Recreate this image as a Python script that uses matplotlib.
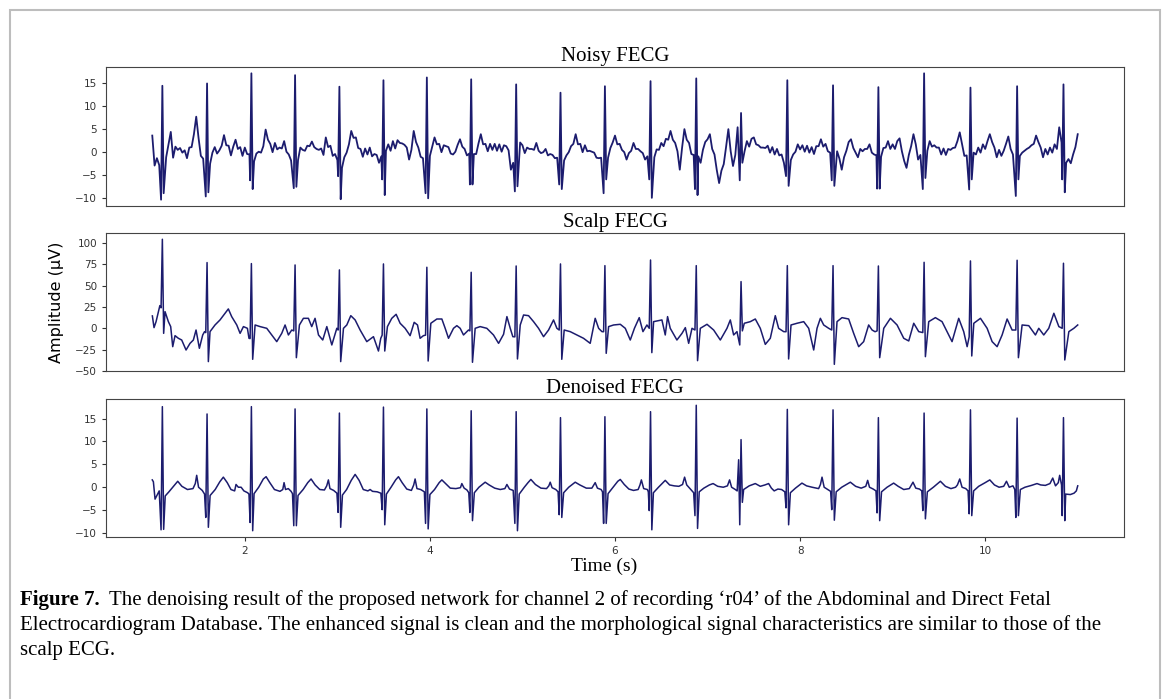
import numpy as np
import matplotlib.pyplot as plt
from matplotlib.patches import Rectangle

# R-peak times (s), shared by the three traces
beat_times = [1.109, 1.592, 2.071, 2.543, 3.022, 3.498, 3.967, 4.446, 4.932, 5.411, 5.891,
              6.384, 6.878, 7.362, 7.862, 8.356, 8.846, 9.340, 9.841, 10.345, 10.846]

# Noisy FECG: QRS values per beat + baseline sampled every 0.025 s from 1 to 11 s
noisy_q = [-10.4, -9.7, -6.2, -7.9, -5.3, -6.0, -9.0, -7.1, -8.6, -7.1, -9.0,
           -6.0, -8.1, -6.2, -5.3, -6.2, -8.0, -8.1, -8.2, -9.6, -6.0]
noisy_r = [14.3, 14.8, 17.0, 16.6, 14.1, 15.5, 16.1, 15.7, 14.6, 12.8, 14.2,
           15.3, 15.9, 8.4, 15.5, 14.4, 14.0, 17.0, 13.9, 14.2, 14.6]
noisy_s = [-9.0, -8.8, -8.1, -7.6, -10.3, -9.4, -10.1, -7.1, -7.5, -8.1, -6.0,
           -10.0, -9.4, -2.4, -7.4, -7.4, -8.0, -5.7, -6.0, -6.0, -8.8]
noisy_base = [
    3.5, -3.0, -1.4, -2.9, -2.0, -1.0, -1.2, 1.5, 4.3, -1.3, 1.1, 0.4, 0.8, -0.2, 0.3, -1.4, 0.9, 1.0, 3.8, 7.6,
    3.0, -0.9, -1.5, -2.0, -2.0, -2.6, -0.2, 1.0, -0.4, 0.3, 1.3, 3.6, 1.4, 1.3, -0.8, 1.1, 2.6, 0.6, 1.0, -0.9,
    0.9, -0.5, -0.6, -1.0, -2.1, -0.4, 0.0, -0.2, 1.2, 4.8, 2.6, 1.7, -0.1, 1.9, 0.5, 0.9, 0.7, 2.3, 0.0, -0.6,
    -1.9, -0.8, -1.2, -1.8, 0.9, 0.4, 0.2, 1.3, 1.2, 2.2, 1.0, 0.6, 0.4, 0.7, -0.7, 3.1, 1.0, 1.3, -0.9, -0.5,
    -1.8, -1.5, -3.5, -1.2, -0.2, 1.6, 4.5, 3.0, 3.1, 0.8, 0.6, -1.1, 0.7, -0.6, 0.9, -1.0, -0.5, -0.7, -2.4, -1.0,
    -1.0, 0.2, 1.6, 0.2, 2.3, 0.7, 2.5, 1.9, 1.8, 1.5, 0.9, -1.7, 0.4, 4.5, 2.1, 0.9, -1.1, -1.4, -2.0, -1.0,
    -0.9, 1.1, 3.1, 1.6, 1.7, -0.1, 1.4, 1.2, 1.0, -0.4, -0.6, 0.0, 1.5, 2.7, 1.1, 0.6, -0.8, -0.4, -0.8, -0.5,
    -0.5, 1.8, 3.8, 1.6, 1.7, 0.1, 1.7, 0.4, 1.7, 0.2, 1.6, 0.0, 1.4, 1.2, 0.3, -3.9, -2.4, -2.4, -2.4, 2.0,
    1.4, -0.3, 0.9, 0.6, 0.6, 0.4, 1.9, 0.2, -0.3, -0.1, 0.6, -0.8, -0.5, -0.7, -1.4, -1.3, -1.0, -1.0, -1.9, -0.8,
    -0.1, 1.2, 1.7, 3.8, 1.6, 1.7, -0.1, 1.4, 0.1, 0.2, 0.0, -0.2, -1.3, -1.4, -1.3, -1.0, -1.0, -1.3, 0.8, 2.0,
    3.5, 1.6, 1.7, 0.4, -0.1, -1.7, -0.3, 0.2, 1.9, 0.6, 0.6, 0.1, -0.3, -1.7, -1.0, -1.0, -1.0, -1.2, 0.5, 0.4,
    1.9, 1.2, 2.8, 2.6, 4.5, 2.6, 1.9, 0.1, -3.9, 0.9, 4.9, 2.6, 1.9, -0.5, -0.7, -1.0, -1.0, -2.4, 0.4, 2.1,
    2.7, 3.8, 0.6, -0.6, -4.0, -6.8, -4.1, -2.7, 1.0, 4.9, 0.1, -3.1, -0.7, 5.3, 0.0, 0.0, 0.1, 2.3, 1.1, 2.8,
    3.1, 1.6, 1.4, 0.9, 0.9, 0.8, 1.3, -0.2, 1.0, -0.6, 0.6, -0.8, -0.6, -2.4, -2.0, -2.0, -1.8, -0.6, 0.0, 1.6,
    0.5, 1.4, 0.0, 1.3, -0.2, 1.0, -0.5, 1.2, 1.2, 2.7, 1.1, 1.7, 0.1, -0.2, -0.5, -0.5, 0.1, -1.5, -3.9, -1.2,
    0.2, 2.1, 2.7, 0.8, -0.2, -1.2, 0.6, 0.1, 0.6, 0.6, 1.6, -0.2, -0.6, -0.8, -0.5, -1.1, 0.8, 0.9, 2.3, 0.6,
    1.6, 0.6, 2.3, 2.9, 0.1, -2.0, -3.5, -0.7, 1.2, 3.8, 1.6, -1.7, -0.7, -1.0, -1.0, 0.2, 2.3, 1.1, 1.4, 0.9,
    0.9, -0.6, 0.7, -0.7, 0.6, 0.4, 0.8, 0.9, 2.3, 4.2, 1.6, -0.9, -0.8, -0.5, -0.5, -0.2, -0.6, 0.9, -0.2, 1.6,
    0.6, 2.3, 3.8, 2.1, 0.9, -1.2, 0.4, -0.9, 0.2, 1.7, 3.3, 0.6, -0.6, -0.9, -0.9, -0.9, -0.2, 0.2, 0.6, 0.9,
    1.4, 1.7, 3.5, 2.1, 0.9, -1.2, 0.6, -0.6, 0.9, -0.2, 1.6, 0.6, 5.3, 2.0, 2.0, -2.4, -1.6, -2.5, -0.6, 1.0,
    3.8]

# Scalp FECG
scalp_q = [24, -5, -12, -3, -2, -8, -8, -3, -10, -2, -4, 0, -2, -19.5, -4, -2, -3, -5, -10, -2, 0]
scalp_r = [104.3, 77, 75.8, 74.2, 68.4, 75.4, 71.5, 65.6, 73, 75.4, 73.4,
           80, 73.4, 54.7, 73.4, 73.4, 73, 77.3, 78.9, 79.7, 76.2]
scalp_s = [-5.9, -39, -36.3, -34.4, -39, -26.6, -38.3, -39.8, -35.9, -36.3, -29.3,
           -28.5, -37.9, -3, -35.9, -42.2, -34.4, -33.2, -32.4, -34.4, -37.1]
scalp_t = [1.001, 1.019, 1.041, 1.066, 1.082,
           1.138, 1.174, 1.199, 1.221, 1.246, 1.282, 1.318, 1.365, 1.408, 1.444, 1.473, 1.509, 1.545, 1.565,
           1.624, 1.678, 1.732, 1.786, 1.822, 1.858, 1.913, 1.949, 1.985, 2.028, 2.045,
           2.111, 2.165, 2.237, 2.291, 2.345, 2.399, 2.435, 2.471, 2.507,
           2.590, 2.633, 2.687, 2.723, 2.759, 2.796, 2.842, 2.886, 2.940, 2.994,
           3.066, 3.102, 3.145, 3.192, 3.246, 3.318, 3.390, 3.444, 3.469,
           3.541, 3.588, 3.635, 3.678, 3.732, 3.786, 3.830, 3.866, 3.894, 3.930,
           4.010, 4.075, 4.129, 4.165, 4.201, 4.255, 4.291, 4.327, 4.363, 4.417,
           4.489, 4.543, 4.615, 4.687, 4.742, 4.796, 4.832, 4.868, 4.896,
           4.976, 5.012, 5.066, 5.120, 5.174, 5.228, 5.282, 5.336, 5.372,
           5.451, 5.516, 5.588, 5.660, 5.732, 5.786, 5.823, 5.859,
           5.931, 5.985, 6.057, 6.111, 6.165, 6.210, 6.262, 6.302, 6.345,
           6.417, 6.507, 6.543, 6.568, 6.597, 6.669, 6.724, 6.760, 6.796, 6.832,
           6.922, 6.994, 7.066, 7.138, 7.210, 7.246, 7.282, 7.318,
           7.397, 7.462, 7.516, 7.570, 7.624, 7.678, 7.732, 7.768, 7.823,
           7.902, 7.967, 8.039, 8.093, 8.147, 8.183, 8.219, 8.255, 8.309,
           8.399, 8.453, 8.525, 8.579, 8.633, 8.687, 8.741, 8.778, 8.810,
           8.904, 8.976, 9.048, 9.120, 9.174, 9.228, 9.282,
           9.390, 9.462, 9.534, 9.588, 9.642, 9.714, 9.768, 9.805,
           9.877, 9.949, 10.021, 10.075, 10.129, 10.183, 10.237, 10.291,
           10.399, 10.471, 10.543, 10.579, 10.633, 10.687, 10.742, 10.796,
           10.904, 10.958, 11.000]
scalp_v = [14.5, 0.8, 7.8, 19.5, 26.6,
           19.5, 7.8, 2.0, -21.5, -8.6, -11.7, -13.7, -25.4, -17.6, -13.7, -2.0, -23.4, -7.8, -3.9,
           -3.9, 3.9, 9.8, 17.6, 22.7, 13.7, 3.9, -5.9, 2.0, 0.0, -11.7,
           3.9, 2.0, 0.0, -7.8, -15.6, -5.9, 3.9, -7.8, -2.0,
           3.9, 11.7, 11.7, 2.0, 11.7, -7.8, -13.7, 2.0, -19.5, 0.0,
           0.0, 3.9, 14.8, 9.8, -2.0, -15.6, -9.8, -26.6, -11.7,
           2.0, 11.7, 16.4, 5.9, 0.0, -8.6, 7.0, 3.9, -11.7, -8.6,
           5.9, 10.9, 10.9, 0.0, -11.7, 0.0, 3.1, 0.0, -7.8, -2.0,
           0.0, 2.0, 0.0, -7.8, -17.6, -7.0, 13.7, 0.0, -9.8,
           3.9, 15.6, 14.8, 7.8, 0.0, -9.8, -2.0, 9.8, 0.0,
           -2.0, -3.9, -7.8, -11.7, -17.6, 11.7, 0.0, -3.9,
           2.0, 3.9, 4.7, 0.0, -13.7, 0.0, 12.5, -3.9, 3.9,
           7.8, 9.8, -7.8, 13.7, 0.0, -13.7, -5.9, 0.8, -17.6, 0.0,
           0.0, 4.7, -2.0, -13.7, 0.0, 9.8, -7.8, -3.9,
           5.9, 7.8, 10.9, 0.0, -18.8, -11.7, 14.8, 0.0, -3.9,
           3.9, 5.9, 7.8, 0.0, -25.4, 0.0, 11.7, 3.9, 0.0,
           7.8, 12.5, 10.9, -5.9, -21.5, -15.6, 3.9, -2.0, -4.0,
           0.0, 11.7, 3.9, -11.7, -14.8, 5.9, -3.9,
           7.8, 12.5, 7.8, -3.9, -15.6, 11.7, -3.9, -21.5,
           5.9, 11.7, 0.0, -15.6, -21.5, -7.8, 10.9, -2.0,
           3.9, 3.1, -7.8, 0.0, -7.8, 0.0, 17.6, 2.0,
           -3.9, 0.0, 3.9]

# Denoised FECG
den_q = [-9.3, -6.6, -7.7, -8.4, -5.5, -4.9, -7.9, -5.5, -7.9, -6.0, -7.9,
         -5.1, -6.2, -8.2, -4.5, -4.9, -5.6, -5.1, -5.8, -6.6, -6.2]
den_r = [17.6, 16.0, 17.6, 17.1, 16.2, 17.5, 17.1, 16.7, 16.5, 15.2, 15.4,
         16.5, 17.9, 10.4, 17.0, 16.9, 15.2, 16.2, 16.9, 15.1, 15.2]
den_s = [-9.2, -8.75, -9.5, -8.4, -8.75, -8.2, -9.1, -7.3, -9.5, -6.6, -7.9,
         -9.3, -9.0, -3.3, -8.2, -7.2, -7.3, -6.9, -6.2, -6.2, -7.3]
den_t = [1.000, 1.012, 1.030, 1.050, 1.075,
         1.140, 1.180, 1.230, 1.275, 1.320, 1.380, 1.440, 1.465, 1.480, 1.500, 1.540, 1.565,
         1.625, 1.680, 1.730, 1.768, 1.810, 1.850, 1.890, 1.905, 1.930, 1.960, 1.990, 2.030, 2.045,
         2.100, 2.150, 2.200, 2.230, 2.270, 2.320, 2.380, 2.410, 2.424, 2.440, 2.470, 2.500, 2.515,
         2.575, 2.630, 2.680, 2.716, 2.760, 2.810, 2.860, 2.885, 2.903, 2.920, 2.960, 2.995,
         3.055, 3.100, 3.150, 3.192, 3.235, 3.280, 3.330, 3.354, 3.380, 3.430, 3.470,
         3.530, 3.580, 3.630, 3.660, 3.700, 3.750, 3.800, 3.825, 3.840, 3.860, 3.900, 3.940,
         4.000, 4.050, 4.100, 4.129, 4.170, 4.220, 4.280, 4.330, 4.345, 4.370, 4.400, 4.420,
         4.480, 4.530, 4.597, 4.640, 4.700, 4.760, 4.810, 4.832, 4.860, 4.900,
         4.965, 5.020, 5.060, 5.091, 5.140, 5.200, 5.260, 5.285, 5.300, 5.320, 5.360, 5.385,
         5.445, 5.500, 5.570, 5.620, 5.690, 5.750, 5.786, 5.810, 5.850, 5.865,
         5.925, 5.980, 6.030, 6.057, 6.100, 6.150, 6.200, 6.250, 6.270, 6.285, 6.310, 6.350, 6.360,
         6.415, 6.470, 6.543, 6.590, 6.640, 6.690, 6.730, 6.752, 6.775, 6.810, 6.850,
         6.910, 6.960, 7.020, 7.060, 7.110, 7.170, 7.215, 7.238, 7.260, 7.300, 7.320, 7.336,
         7.390, 7.450, 7.516, 7.570, 7.620, 7.660, 7.690, 7.720, 7.760, 7.800, 7.835,
         7.895, 7.950, 8.020, 8.070, 8.130, 8.200, 8.220, 8.237, 8.260, 8.300, 8.330,
         8.390, 8.450, 8.543, 8.600, 8.660, 8.710, 8.730, 8.750, 8.790, 8.820,
         8.880, 8.940, 9.011, 9.060, 9.120, 9.180, 9.220, 9.250, 9.290, 9.315,
         9.375, 9.440, 9.516, 9.570, 9.630, 9.680, 9.700, 9.725, 9.750, 9.790, 9.815,
         9.875, 9.930, 10.000, 10.050, 10.100, 10.150, 10.200, 10.230, 10.260, 10.300, 10.320,
         10.380, 10.430, 10.500, 10.560, 10.600, 10.650, 10.700, 10.730, 10.760, 10.790, 10.805, 10.825,
         10.870, 10.920, 10.960, 10.985, 11.000]
den_v = [1.6, 1.2, -2.6, -1.8, -0.8,
         -1.9, -1.0, 0.2, 1.3, 0.2, -0.5, -0.3, 0.8, 2.6, 0.0, -0.7, -1.5,
         -1.8, -0.5, 1.2, 2.2, 1.0, -0.5, -0.8, 0.6, 0.0, 0.0, -0.8, -1.2, -1.5,
         -1.4, 0.0, 1.8, 2.3, 1.0, -0.5, -0.9, -0.5, 1.0, -0.5, -0.3, -0.9, -1.4,
         -1.8, -0.5, 1.0, 1.8, 0.5, -0.5, -0.6, 0.3, 1.6, -0.3, -0.7, -1.3,
         -1.7, -0.5, 1.5, 2.8, 1.5, -0.5, -0.8, -0.5, -0.9, -1.0, -1.3,
         -1.5, 0.0, 1.6, 2.3, 1.0, -0.4, -0.7, 0.5, 1.8, -0.3, -0.5, -1.0,
         -1.6, -0.5, 1.0, 1.6, 0.8, -0.2, -0.3, -0.1, 0.8, -0.2, -0.6, -1.2,
         -1.2, 0.0, 1.1, 0.5, -0.2, -0.5, -0.3, 0.6, -0.4, -0.7,
         -1.5, 0.0, 1.0, 1.7, 0.6, -0.2, -0.3, 0.3, 1.1, -0.1, -0.5, -1.0,
         -1.2, 0.0, 1.1, 0.5, -0.2, -0.2, 1.0, -0.2, -0.5, -1.0,
         -1.4, 0.0, 1.3, 1.7, 0.6, -0.4, -0.7, -0.5, 0.5, 1.6, -0.3, -0.5, -1.0,
         -1.2, 0.0, 1.5, 0.5, 0.3, 0.2, 0.6, 2.2, 0.5, -0.3, -1.2,
         -1.0, -0.2, 0.5, 0.8, 0.2, 0.0, 0.3, 1.6, 0.0, -0.5, -0.8, 6.0,
         -0.5, 0.3, 0.8, 0.2, 0.5, 0.8, -0.2, -0.8, -0.4, -0.5, -1.0,
         -1.2, -0.2, 0.9, 0.3, 0.0, -0.3, 0.6, 2.2, 0.0, -0.5, -0.9,
         -1.0, 0.0, 1.1, 0.2, -0.2, 0.2, 1.5, 0.0, -0.4, -0.8,
         -1.0, 0.0, 0.9, 0.2, -0.5, -0.3, 1.1, -0.2, -0.4, -0.8,
         -1.0, 0.0, 1.3, 0.2, -0.3, 0.0, 0.5, 1.8, 0.0, -0.3, -0.8,
         -0.8, 0.2, 1.0, 1.6, 0.5, 0.0, 0.2, 1.3, 0.0, 0.3, -0.5,
         -0.5, 0.0, 0.4, 0.8, 0.5, 0.4, 0.8, 2.0, 0.3, 1.0, 2.6, 0.5,
         -1.5, -1.6, -1.3, -0.8, 0.3]

titles = ["Noisy FECG", "Scalp FECG", "Denoised FECG"]
line_widths = [1.3, 1.1, 1.1]
caption = [
    "The denoising result of the proposed network for channel 2 of recording \u2018r04\u2019 of the Abdominal and Direct Fetal",
    "Electrocardiogram Database. The enhanced signal is clean and the morphological signal characteristics are similar to those of the",
    "scalp ECG.",
]


def build_trace(base_t, base_v, q, r, s):
    # baseline points, minus the ones inside each QRS, plus the Q/R/S vertices
    t = np.asarray(base_t, float)
    v = np.asarray(base_v, float)
    keep = np.ones(len(t), bool)
    for tb in beat_times:
        keep &= np.abs(t - tb) >= 0.02
    tt = list(t[keep])
    vv = list(v[keep])
    for tb, a, b, c in zip(beat_times, q, r, s):
        tt += [tb - 0.014, tb, tb + 0.014]
        vv += [a, b, c]
    order = np.argsort(tt)
    return np.array(tt)[order], np.array(vv)[order]


traces = [
    build_trace(np.linspace(1, 11, len(noisy_base)), noisy_base, noisy_q, noisy_r, noisy_s),
    build_trace(scalp_t, scalp_v, scalp_q, scalp_r, scalp_s),
    build_trace(den_t, den_v, den_q, den_r, den_s),
]

W, H = 1166, 699
fig = plt.figure(figsize=(W / 100, H / 100), dpi=100)
fig.patches.append(Rectangle((10 / W, -0.1), 1150 / W, 1.1 - 10 / H, transform=fig.transFigure,
                             fill=False, edgecolor="#bdbdbd", linewidth=1.5))

boxes = [(67, 206), (233, 371), (399, 537)]  # top/bottom in pixels
serif = "Liberation Serif"
axes = []
for i, (top, bot) in enumerate(boxes):
    ax = fig.add_axes([106 / W, 1 - bot / H, 1018 / W, (bot - top) / H])
    t, v = traces[i]
    ax.plot(t, v, color="#1c1c6e", linewidth=line_widths[i])
    ax.set_title(titles[i], fontfamily=serif, fontsize=15, pad=4)
    ax.tick_params(labelsize=7.5, colors="#333333", width=0.8, length=3)
    for sp in ax.spines.values():
        sp.set_color("#444444")
    ax.set_xlim(0.5, 11.5)
    if i < 2:
        ax.set_xticks([])
    else:
        ax.set_xticks([2, 4, 6, 8, 10])
    axes.append(ax)

axes[0].set_yticks([-10, -5, 0, 5, 10, 15])
axes[1].set_yticks([-50, -25, 0, 25, 50, 75, 100])
axes[2].set_yticks([-10, -5, 0, 5, 10, 15])

fig.text(604 / W, 1 - 566 / H, "Time (s)", fontfamily=serif, fontsize=14, ha="center", va="center")
fig.text(57 / W, 1 - 302 / H, "Amplitude (\u00b5V)", fontsize=11.5, rotation=90, ha="center", va="center")

fig.text(20 / W, 1 - 600 / H, "Figure 7.", fontfamily=serif, fontweight="bold", fontsize=15, va="center")
fig.text(109 / W, 1 - 600 / H, caption[0], fontfamily=serif, fontsize=15, va="center")
fig.text(20 / W, 1 - 625 / H, caption[1], fontfamily=serif, fontsize=15, va="center")
fig.text(20 / W, 1 - 650 / H, caption[2], fontfamily=serif, fontsize=15, va="center")

fig.savefig("out.png", dpi=100)
